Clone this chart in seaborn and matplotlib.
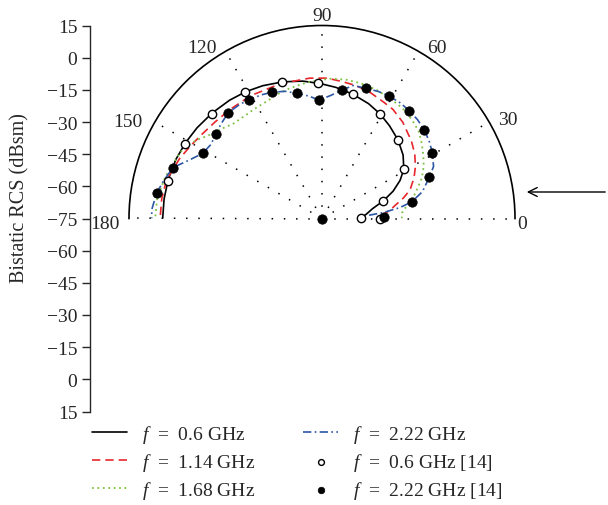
import numpy as np
import matplotlib
matplotlib.use("Agg")
import matplotlib.pyplot as plt
import seaborn as sns

# bistatic RCS (dBsm) against angle (deg)
ang_06 = [1, 3, 6, 11, 16, 21, 26, 31, 38, 46, 54, 61, 68, 76, 84, 91, 98, 106,
          114, 121, 128, 136, 144, 151, 158, 166, 173, 180]
rcs_06 = [-56.5, -55.7, -54, -51, -45.3, -39.5, -34.5, -30.5, -27, -24, -21.5, -19.2,
          -17.2, -15.3, -13.5, -12.0, -10.3, -8.7, -7.2, -6.0, -5.0, -4.0, -3.0, -2.2,
          -1.5, -1.0, -0.8, -0.7]

ang_114 = [2, 4, 7, 10, 14, 18, 24, 29, 35, 41, 50, 57, 62, 70, 76, 82, 88, 95, 102,
           110, 120, 130, 138, 145, 151, 157, 166, 173, 180]
rcs_114 = [-47, -46, -43, -40.5, -36, -31.8, -28, -25.2, -22.2, -19.8, -16.4, -14.3,
           -13.6, -11.8, -11, -10.4, -9.5, -9.3, -9.6, -9.4, -8.8, -8.5, -7.8, -6.6,
           -5.0, -3.0, -0.3, 0.3, 0.5]

ang_168 = [0, 4, 7, 11, 15, 18, 22, 27, 30, 34, 38, 42, 46, 50, 54, 60, 67, 74, 80,
           86, 90, 95, 99, 105, 110, 114, 122, 128, 133, 139, 144, 148, 152, 155, 161,
           165, 173, 180]
rcs_168 = [-37.8, -37.6, -36, -33, -30, -28, -24.8, -21.8, -20.3, -18.3, -16.3, -14.3,
           -13.2, -12.2, -11.3, -10.7, -9.8, -9.4, -9.3, -9.6, -10.3, -11, -11.7, -12.6,
           -13.5, -14.4, -15, -15, -14.5, -11.8, -9.3, -6, -3.4, -2.0, -0.8, 0.6, 2.4, 2.8]

ang_222 = [4, 5.5, 8, 10.5, 15, 21, 25, 30.8, 36, 41.1, 46, 51.1, 56, 61.2, 66, 71.3,
           76.8, 81.3, 86, 91.5, 96, 101.4, 106, 111.5, 116, 121.4, 126, 131.6, 136,
           141.4, 146, 151.4, 156, 161.2, 166.8, 171.2, 177, 180]
rcs_222 = [-53, -46.3, -38.3, -32.4, -26.5, -21.4, -17.6, -15.1, -13.3, -11.9, -10.9,
           -10.3, -9.9, -9.9, -10.2, -10.9, -11.3, -14.5, -17.5, -19.8, -17.6, -15.5,
           -13.3, -11.7, -10.8, -10.0, -9.4, -9.1, -10.3, -11.5, -12.8, -11.6, -7.6,
           -1.5, 1.0, 3.0, 4.5, 4.4]

# reference [14] measurements
ang_ref06 = [0, 1, 16, 31, 46, 61, 76, 91.5, 106.5, 121.5, 136.5, 151.5, 166.5]
rcs_ref06 = [-47.9, -56.8, -45.3, -30.2, -24.0, -19.2, -15.3, -12.0, -8.7, -6.0, -4.0,
             -2.2, -1.0]
ang_ref222 = [90, 1.6, 10.5, 21, 30.8, 41.1, 51.1, 61.2, 71.3, 81.3, 91.5, 101.4,
              111.5, 121.4, 131.6, 141.4, 151.4, 161.2, 171.2]
rcs_ref222 = [-75, -46.1, -32.4, -21.4, -15.1, -11.9, -10.3, -9.9, -10.9, -14.5, -19.8,
              -15.5, -11.7, -10.0, -9.1, -11.5, -11.6, -1.5, 3.0]

theta_ticks = [0, 30, 60, 90, 120, 150, 180]
r_ticks = list(range(-90, 91, 15))

sns.set_style('ticks')
plt.rcParams['font.family'] = ['Liberation Serif', 'DejaVu Serif']
plt.rcParams['mathtext.fontset'] = 'custom'
plt.rcParams['mathtext.rm'] = 'Liberation Serif'
plt.rcParams['mathtext.it'] = 'Liberation Serif:italic'

W, H = 608, 506
fig = plt.figure(figsize=(W / 100, H / 100), dpi=100)

# half polar plot, centre at (322, 219.5) px, radius 193 px
ax = fig.add_axes([129 / W, 190 / H, 386 / W, 386 / H], projection='polar')
ax.set_thetamin(0)
ax.set_thetamax(180)

def rad(a):
    return np.deg2rad(np.asarray(a, dtype=float))

sns.lineplot(x=rad(ang_06), y=rcs_06, ax=ax, color='black', lw=1.2,
             label=r'$f$  =  0.6 GHz', zorder=3)
sns.lineplot(x=rad(ang_114), y=rcs_114, ax=ax, color='#E8262B', lw=1.2,
             linestyle=(0, (5, 3)), label=r'$f$  =  1.14 GHz', zorder=3)
sns.lineplot(x=rad(ang_168), y=rcs_168, ax=ax, color='#7DC242', lw=1.3,
             linestyle=(0, (1, 2)), label=r'$f$  =  1.68 GHz', zorder=3)
sns.lineplot(x=rad(ang_222), y=rcs_222, ax=ax, color='#2D56A5', lw=1.2,
             linestyle=(0, (5, 2, 1, 2)), label=r'$f$  =  2.22 GHz', zorder=3)
sns.scatterplot(x=rad(ang_ref06), y=rcs_ref06, ax=ax, marker='o', s=36,
                facecolor='white', edgecolor='black', linewidth=1.0,
                label=r'$f$  =  0.6 GHz [14]', zorder=4, clip_on=False)
sns.scatterplot(x=rad(ang_ref222), y=rcs_ref222, ax=ax, marker='o', s=46,
                color='black', edgecolor='black', linewidth=0.5,
                label=r'$f$  =  2.22 GHz [14]', zorder=5, clip_on=False)

ax.set_rlim(-75, 15)
ax.set_rticks([])
ax.set_thetagrids(theta_ticks, labels=[''] * len(theta_ticks))
ax.xaxis.grid(True, color='black', linestyle=(0, (1, 7)), lw=1.1, clip_on=False)
ax.yaxis.grid(False)
ax.tick_params(axis='x', direction='in', length=6, width=1)
ax.spines['polar'].set_linewidth(1.2)
ax.spines['polar'].set_color('black')
ax.spines['start'].set_color('none')
ax.spines['end'].set_color('none')
ax.set_xlabel('')
ax.set_ylabel('')

# angle labels sit beside the outer arc, offsets in px
label_place = {0: (2, -3, 'left', 'center_baseline'),
               30: (9, 4, 'left', 'center_baseline'),
               60: (8.5, -1, 'left', 'baseline'),
               90: (0, 5.5, 'center', 'baseline'),
               120: (-8.5, -1, 'right', 'baseline'),
               150: (-12, 2.5, 'right', 'center_baseline'),
               180: (-9, -3, 'right', 'center_baseline')}
for t in theta_ticks:
    dx, dy, ha, va = label_place[t]
    ax.annotate(str(t), xy=(np.deg2rad(t), 15), xytext=(dx * 0.72, dy * 0.72),
                textcoords='offset points', ha=ha, va=va, fontsize=14,
                annotation_clip=False)

handles, labels = ax.get_legend_handles_labels()
ax.get_legend().remove()

# left radial scale
ax2 = fig.add_axes([90 / W, 93.5 / H, 100 / W, 386 / H])
ax2.patch.set_alpha(0)
ax2.set_ylim(-90, 90)
ax2.set_yticks(r_ticks)
ax2.set_yticklabels([f'{abs(t) - 75}'.replace('-', '\u2212') for t in r_ticks], fontsize=14)
ax2.set_xticks([])
sns.despine(ax=ax2, top=True, right=True, bottom=True)
ax2.spines['left'].set_linewidth(1.0)
ax2.tick_params(axis='y', direction='out', length=6, width=1, pad=3)
ax2.set_ylabel('Bistatic RCS (dBsm)', fontsize=14.5)
ax2.yaxis.set_label_coords(-0.61, 0.556)

fig.legend(handles, labels, ncol=2, loc='upper left',
           bbox_to_anchor=(92 / W, 1 - 424 / H), frameon=False, fontsize=14,
           borderpad=0, borderaxespad=0, handlelength=1.8, handletextpad=0.75,
           columnspacing=2.5, labelspacing=0.3, markerscale=0.7)

ax.annotate('', xy=(524, H - 193), xytext=(608, H - 193), xycoords='figure pixels',
            textcoords='figure pixels', annotation_clip=False,
            arrowprops=dict(arrowstyle='->', lw=1.0, color='black', mutation_scale=16))

fig.savefig('out.png', dpi=100)
